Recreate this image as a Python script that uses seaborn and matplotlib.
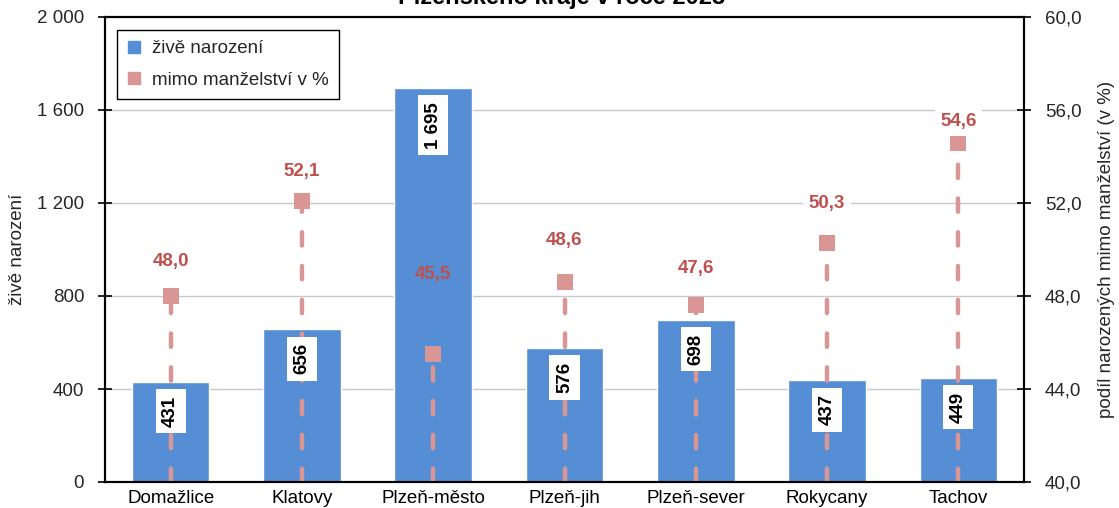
import numpy as np
import pandas as pd
import matplotlib
matplotlib.use("Agg")
import matplotlib.pyplot as plt
import seaborn as sns
from matplotlib.lines import Line2D
from matplotlib.ticker import FuncFormatter, MultipleLocator

# ---- data ----
districts = ["Domažlice", "Klatovy", "Plzeň-město", "Plzeň-jih", "Plzeň-sever", "Rokycany", "Tachov"]
births = [431, 656, 1695, 576, 698, 437, 449]
pct_outside = [48.0, 52.1, 45.5, 48.6, 47.6, 50.3, 54.6]

title_text = "Plzeňského kraje v roce 2023"
left_label = "živě narození"
right_label = "podíl narozených mimo manželství (v %)"
legend_labels = ["živě narození", "mimo manželství v %"]

# ---- style ----
BAR = "#558ED5"
PINK = "#D99694"
RED = "#C0504D"
FS = 13.5
pct_label_offset_pt = [24.5, 21, 57.5, 30, 26.5, 28, 15]   # manual label placement
pct_label_box = [True, True, False, True, True, True, True]

sns.set_theme(style="white")
plt.rcParams["font.family"] = ["Liberation Sans", "DejaVu Sans"]

df = pd.DataFrame({"okres": districts, "births": births, "pct": pct_outside})

fig = plt.figure(figsize=(11.19, 5.08), dpi=100)
ax = fig.add_axes([105 / 1119, 26 / 508, 919 / 1119, 465 / 508])

sns.barplot(data=df, x="okres", y="births", color=BAR, saturation=1, width=0.59, ax=ax, zorder=2)
ax.set_xlim(-0.5, len(districts) - 0.5)
ax.set_ylim(0, 2000)
ax.yaxis.set_major_locator(MultipleLocator(400))
ax.yaxis.set_major_formatter(FuncFormatter(lambda v, p: f"{v:,.0f}".replace(",", " ")))
ax.set_axisbelow(True)
ax.yaxis.grid(True, color="#c8c8c8", lw=1)
ax.set_xlabel("")
ax.set_ylabel(left_label, fontsize=FS)
ax.yaxis.set_label_coords(-0.086, 0.5)
ax.tick_params(axis="x", length=0, pad=6, labelsize=FS, colors="black")
ax.tick_params(axis="y", direction="inout", length=10, width=1.2, color="black", pad=10, labelsize=FS)

ax2 = ax.twinx()
ax2.set_ylim(40, 60)
ax2.yaxis.set_major_locator(MultipleLocator(4))
ax2.yaxis.set_major_formatter(FuncFormatter(lambda v, p: f"{v:.1f}".replace(".", ",")))
ax2.set_ylabel(right_label, fontsize=FS)
ax2.yaxis.set_label_coords(1.08, 0.5)
ax2.tick_params(axis="y", direction="inout", length=10, width=1.2, color="black", pad=10, labelsize=FS)

for a in (ax, ax2):
    for s in a.spines.values():
        s.set_color("black")
        s.set_linewidth(1.5)

xpos = np.arange(len(districts))

# dashed drop lines
lc = ax2.vlines(xpos, 40, df["pct"], colors=PINK, linewidth=3.2,
                linestyles=[(0, (3.0, 4.6))], zorder=2)
lc.set_capstyle("round")

# bar value labels
for i, v in enumerate(df["births"]):
    ax2.annotate(f"{v:,}".replace(",", " "), xy=(i, v), xycoords=ax.transData,
                 xytext=(0, -10), textcoords="offset points", rotation=90,
                 ha="center", va="top", fontsize=FS, fontweight="bold", color="black",
                 bbox=dict(boxstyle="square,pad=0.35", fc="white", ec="none"), zorder=3)

# markers
sns.scatterplot(x=xpos, y=df["pct"], marker="s", s=135, color=PINK, edgecolor=PINK,
                linewidth=0, ax=ax2, zorder=4, legend=False)

for i, p in enumerate(df["pct"]):
    box = dict(boxstyle="square,pad=0.3", fc="white", ec="none") if pct_label_box[i] else None
    ax2.annotate(f"{p:.1f}".replace(".", ","), xy=(i, p), xytext=(0, pct_label_offset_pt[i]),
                 textcoords="offset points", ha="center", va="center",
                 fontsize=FS, fontweight="bold", color=RED, bbox=box, zorder=5)

handles = [Line2D([], [], marker="s", ls="none", color=BAR, markersize=8),
           Line2D([], [], marker="s", ls="none", color=PINK, markersize=8)]
leg = ax2.legend(handles, legend_labels, loc="upper left", bbox_to_anchor=(0.013, 0.972),
                 borderaxespad=0, frameon=True, fancybox=False, framealpha=1,
                 edgecolor="black", fontsize=FS, handlelength=0.7, handletextpad=0.6,
                 labelspacing=0.75, borderpad=0.55)
leg.get_frame().set_linewidth(1.0)

fig.text(562 / 1119, 1 - 4 / 508, title_text, ha="center", va="baseline",
         fontsize=17, fontweight="bold", color="black")

fig.savefig("out.png", dpi=100)
